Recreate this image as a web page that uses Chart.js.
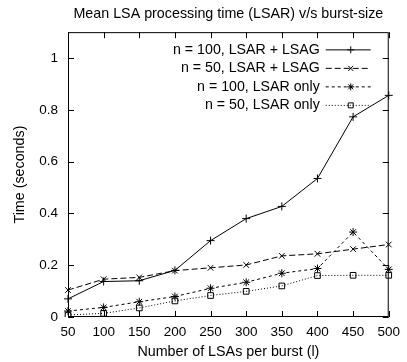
<!DOCTYPE html>
<html>
<head>
<meta charset="utf-8">
<script src="https://cdn.jsdelivr.net/npm/chart.js@4"></script>
<style>
  html, body { margin: 0; padding: 0; background: #fff; }
  #wrap { width: 407px; height: 362px; }
</style>
</head>
<body>
<div id="wrap"><canvas id="myChart" width="407" height="362"></canvas></div>
<script>
// data
const burstSizes = ['50', '100', '150', '200', '250', '300', '350', '400', '450', '500'];
const n100Full = [0.07, 0.137, 0.14, 0.18, 0.295, 0.38, 0.427, 0.535, 0.773, 0.856];
const n50Full = [0.104, 0.146, 0.153, 0.179, 0.19, 0.201, 0.236, 0.244, 0.262, 0.28];
const n100Lsar = [0.023, 0.037, 0.059, 0.079, 0.111, 0.134, 0.169, 0.187, 0.328, 0.184];
const n50Lsar = [0.008, 0.014, 0.035, 0.062, 0.083, 0.099, 0.12, 0.16, 0.161, 0.161];
const yTicks = [0, 0.2, 0.4, 0.6, 0.8, 1];

const FONT = 'Liberation Sans, Arial, sans-serif';
Chart.defaults.font.family = FONT;
Chart.defaults.font.size = 13.5;
Chart.defaults.color = '#000';

const series = [
    { label: 'n = 100, LSAR + LSAG', data: n100Full, dash: [], point: 'cross' },
    { label: 'n = 50, LSAR + LSAG', data: n50Full, dash: [6, 3], point: 'crossRot' },
    { label: 'n = 100, LSAR only', data: n100Lsar, dash: [3, 3], point: 'star' },
    { label: 'n = 50, LSAR only', data: n50Lsar, dash: [1, 2], point: 'rect' }
];

// gnuplot style frame, inward ticks and legend
const framePlugin = {
    id: 'frame',
    afterDraw(chart) {
        const c = chart.ctx, a = chart.chartArea;
        const xs = chart.scales.x, ys = chart.scales.y;
        c.save();
        c.strokeStyle = '#000';
        c.lineWidth = 1;
        c.strokeRect(a.left + 0.5, a.top + 0.5, a.right - a.left - 1, a.bottom - a.top - 1);
        c.beginPath();
        burstSizes.forEach((b, i) => {
            const x = Math.round(xs.getPixelForValue(i)) + 0.5;
            c.moveTo(x, a.bottom); c.lineTo(x, a.bottom - 6);
            c.moveTo(x, a.top); c.lineTo(x, a.top + 6);
        });
        yTicks.forEach(v => {
            const y = Math.round(ys.getPixelForValue(v)) + 0.5;
            c.moveTo(a.left, y); c.lineTo(a.left + 6, y);
            c.moveTo(a.right, y); c.lineTo(a.right - 6, y);
        });
        c.stroke();

        // legend: text right aligned, sample line after it
        c.font = '14.2px ' + FONT;
        c.textAlign = 'right';
        c.textBaseline = 'middle';
        chart.data.datasets.forEach((ds, i) => {
            const y = a.top + 17.7 + i * 18.5;
            c.fillStyle = '#000';
            c.fillText(ds.label, a.right - 69, y);
            c.setLineDash(ds.borderDash);
            c.beginPath();
            c.moveTo(a.right - 63, y);
            c.lineTo(a.right - 18, y);
            c.stroke();
            c.setLineDash([]);
            c.fillStyle = 'rgba(0,0,0,0)';
            Chart.helpers.drawPoint(c, { pointStyle: ds.pointStyle, radius: 3.5, borderWidth: 1 }, a.right - 38, y);
        });
        c.restore();
    }
};

const ctx = document.getElementById('myChart').getContext('2d');
const myChart = new Chart(ctx, {
    type: 'line',
    data: {
        labels: burstSizes,
        datasets: series.map(s => ({
            label: s.label,
            data: s.data,
            borderColor: '#000',
            backgroundColor: 'rgba(0,0,0,0)',
            borderWidth: 1,
            borderDash: s.dash,
            pointStyle: s.point,
            pointRadius: 4,
            pointBorderColor: '#000',
            pointBorderWidth: 1,
            tension: 0
        }))
    },
    options: {
        responsive: false,
        animation: false,
        layout: { padding: { left: 0, right: 11, top: 0, bottom: 0 } },
        plugins: {
            legend: { display: false },
            tooltip: { enabled: false },
            title: {
                display: true,
                fullSize: false,
                text: 'Mean LSA processing time (LSAR) v/s burst-size',
                font: { size: 14.3, weight: 'normal' },
                color: '#000',
                padding: { top: 5, bottom: 10 }
            }
        },
        scales: {
            x: {
                offset: false,
                grid: { display: false, drawTicks: false, offset: false },
                border: { display: false },
                ticks: { padding: 7, maxRotation: 0, autoSkip: false },
                title: { display: true, text: 'Number of LSAs per burst (l)', font: { size: 14.3 }, padding: { top: 2, bottom: 1.5 } },
                afterFit(scale) { scale.height = 45; }
            },
            y: {
                min: 0,
                max: 1.1,
                grid: { display: false, drawTicks: false },
                border: { display: false },
                ticks: { padding: 10, callback: v => String(v) },
                afterBuildTicks(scale) { scale.ticks = yTicks.map(v => ({ value: v })); },
                title: { display: true, text: 'Time (seconds)', font: { size: 14.3 }, padding: { top: 11, bottom: 0 } },
                afterFit(scale) { scale.width = 68; }
            }
        }
    },
    plugins: [framePlugin]
});
</script>
</body>
</html>
